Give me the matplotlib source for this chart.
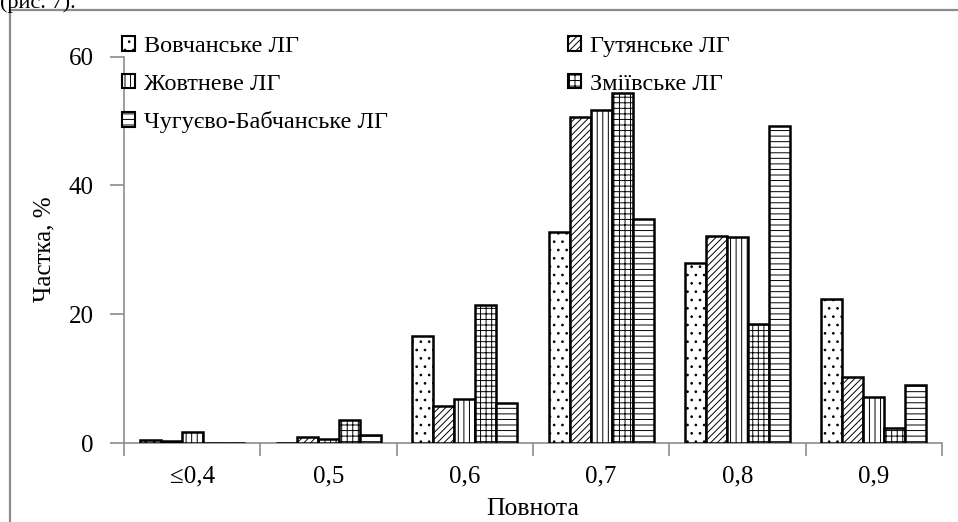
import matplotlib
matplotlib.use("Agg")
import matplotlib.pyplot as plt
import numpy as np
from matplotlib.lines import Line2D

plt.rcParams['font.family'] = ['Liberation Serif', 'DejaVu Serif']
plt.rcParams['hatch.linewidth'] = 0.7

categories = ['≤0,4', '0,5', '0,6', '0,7', '0,8', '0,9']
series_names = ['Вовчанське ЛГ', 'Гутянське ЛГ', 'Жовтневе ЛГ', 'Зміївське ЛГ', 'Чугуєво-Бабчанське ЛГ']
vovch = [0.5, 0.0, 16.6, 32.7, 27.9, 22.3]
gut = [0.3, 0.9, 5.7, 50.6, 32.1, 10.2]
zhovt = [1.7, 0.6, 6.8, 51.7, 32.0, 7.2]
zmiiv = [0.0, 3.5, 21.5, 54.4, 18.4, 2.4]
chug = [0.0, 1.2, 6.2, 34.7, 49.2, 9.0]
series = [vovch, gut, zhovt, zmiiv, chug]
hatches = ['..', '/////', '|||', '+++', '---']
yticks = [0, 20, 40, 60]

W, H = 958, 522
fig = plt.figure(figsize=(W / 100, H / 100), dpi=100)
ax = fig.add_axes([124 / W, 1 - 443 / H, (942 - 124) / W, (443 - 56.5) / H])

x = np.arange(len(categories))
w = 1 / 6.5
handles = []
for j, (vals, hat, name) in enumerate(zip(series, hatches, series_names)):
    bars = ax.bar(x + (j - 2) * w, vals, width=w, color='white', edgecolor='black',
                  hatch=hat, linewidth=1.8, label=name, zorder=3)
    handles.append(bars)

ax.set_xlim(-0.5, len(categories) - 0.5)
ax.set_ylim(0, 60)
ax.set_yticks(yticks)
ax.set_yticklabels([str(v) for v in yticks])
ax.set_xticks(np.arange(-0.5, len(categories)), minor=False)
ax.set_xticklabels([])
ax.set_xticks(x, minor=True)
ax.set_xticklabels(categories, minor=True)
ax.tick_params(axis='x', which='major', direction='out', length=9, width=1.2, color='#8c8c8c')
ax.tick_params(axis='x', which='minor', length=0, pad=16, labelsize=18)
ax.tick_params(axis='y', direction='out', length=10, width=1.2, color='#8c8c8c', pad=12, labelsize=18)

for s in ['top', 'right']:
    ax.spines[s].set_visible(False)
for s in ['left', 'bottom']:
    ax.spines[s].set_color('#8c8c8c')
    ax.spines[s].set_linewidth(1.2)

fig.text(44 / W, 1 - 249 / H, 'Частка, %', rotation=90, ha='center', va='center', fontsize=18)
fig.text(533 / W, 1 - 509 / H, 'Повнота', ha='center', va='center', fontsize=18.5)

leg_kw = dict(frameon=False, fontsize=17.5, handlelength=0.55, handleheight=0.55,
              handletextpad=0.35, labelspacing=0.68, borderpad=0, borderaxespad=0)
leg1 = fig.legend([handles[0], handles[2], handles[4]],
                  [series_names[0], series_names[2], series_names[4]],
                  loc='upper left', bbox_to_anchor=(122 / W, 1 - 36 / H), **leg_kw)
leg2 = fig.legend([handles[1], handles[3]],
                  [series_names[1], series_names[3]],
                  loc='upper left', bbox_to_anchor=(568 / W, 1 - 36 / H), **leg_kw)
for leg in (leg1, leg2):
    for p in leg.get_patches():
        p.set_linewidth(1.5)

# outer frame
fig.add_artist(Line2D([10 / W, 1], [1 - 10 / H, 1 - 10 / H], color='#8c8c8c', lw=1.6))
fig.add_artist(Line2D([10 / W, 10 / W], [0, 1 - 10 / H], color='#8c8c8c', lw=1.6))
fig.text(0, 1 - 8 / H, '(рис. 7).', ha='left', va='baseline', fontsize=16)

fig.savefig('out.png', dpi=100)
